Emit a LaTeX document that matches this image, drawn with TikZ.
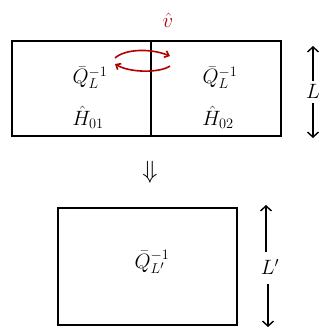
\documentclass[tikz,border=0pt]{standalone}
\usetikzlibrary{arrows.meta}
\begin{document}
\begin{tikzpicture}[x=1pt,y=-1pt,
  box/.style={draw=black, line width=1.6pt},
  lbl/.style={font=\huge, inner sep=0pt},
  tip/.style={line width=1.4pt},
  swap/.style={draw=red!70!black, line width=1.6pt, -{Straight Barb[length=4pt,width=7pt]}}]
\useasboundingbox (0,0) rectangle (327,335);
% top box
\draw[box] (12,41) rectangle (281,136);
\draw[box] (151,41) -- (151,136);
\node[lbl] (ql1) at (90,78) {$\bar{Q}_L^{-1}$};
\node[lbl] (h1) at (88,117) {$\hat{H}_{01}$};
\node[lbl] (ql2) at (220,78) {$\bar{Q}_L^{-1}$};
\node[lbl] (h2) at (218,117) {$\hat{H}_{02}$};
% red V hat
\node[lbl, text=red!70!black] (vhat) at (168,20) {$\hat{v}$};
% swap arrows
\coordinate (sa) at (115,58);
\coordinate (sb) at (170,56);
\coordinate (sc) at (170,66);
\coordinate (sd) at (115,64);
\draw[swap] (sa) .. controls (125,49) and (150,48) .. (sb);
\draw[swap] (sc) .. controls (160,73) and (130,73) .. (sd);
% L arrow
\node[lbl] (L) at (313,91) {$L$};
\coordinate (la) at (313,46);
\coordinate (lb) at (313,138);
\draw[tip, -{Straight Barb[length=5pt,width=11pt]}] (L.north) ++(0,-3) -- (la);
\draw[tip, -{Straight Barb[length=5pt,width=11pt]}] (L.south) ++(0,5) -- (lb);
% implies arrow
\node[font=\Huge, inner sep=0pt] (impl) at (150,172) {$\Downarrow$};
% bottom box
\draw[box] (58,208) rectangle (237,325);
\node[lbl] (ql3) at (152,262) {$\bar{Q}_{L'}^{-1}$};
% L' arrow
\node[lbl] (Lp) at (270,267) {$L'$};
\coordinate (ma) at (266,205);
\coordinate (mb) at (268,327);
\draw[tip, -{Straight Barb[length=5pt,width=11pt]}] (266,252) -- (ma);
\draw[tip, -{Straight Barb[length=5pt,width=11pt]}] (268,284) -- (mb);
\end{tikzpicture}
\end{document}
